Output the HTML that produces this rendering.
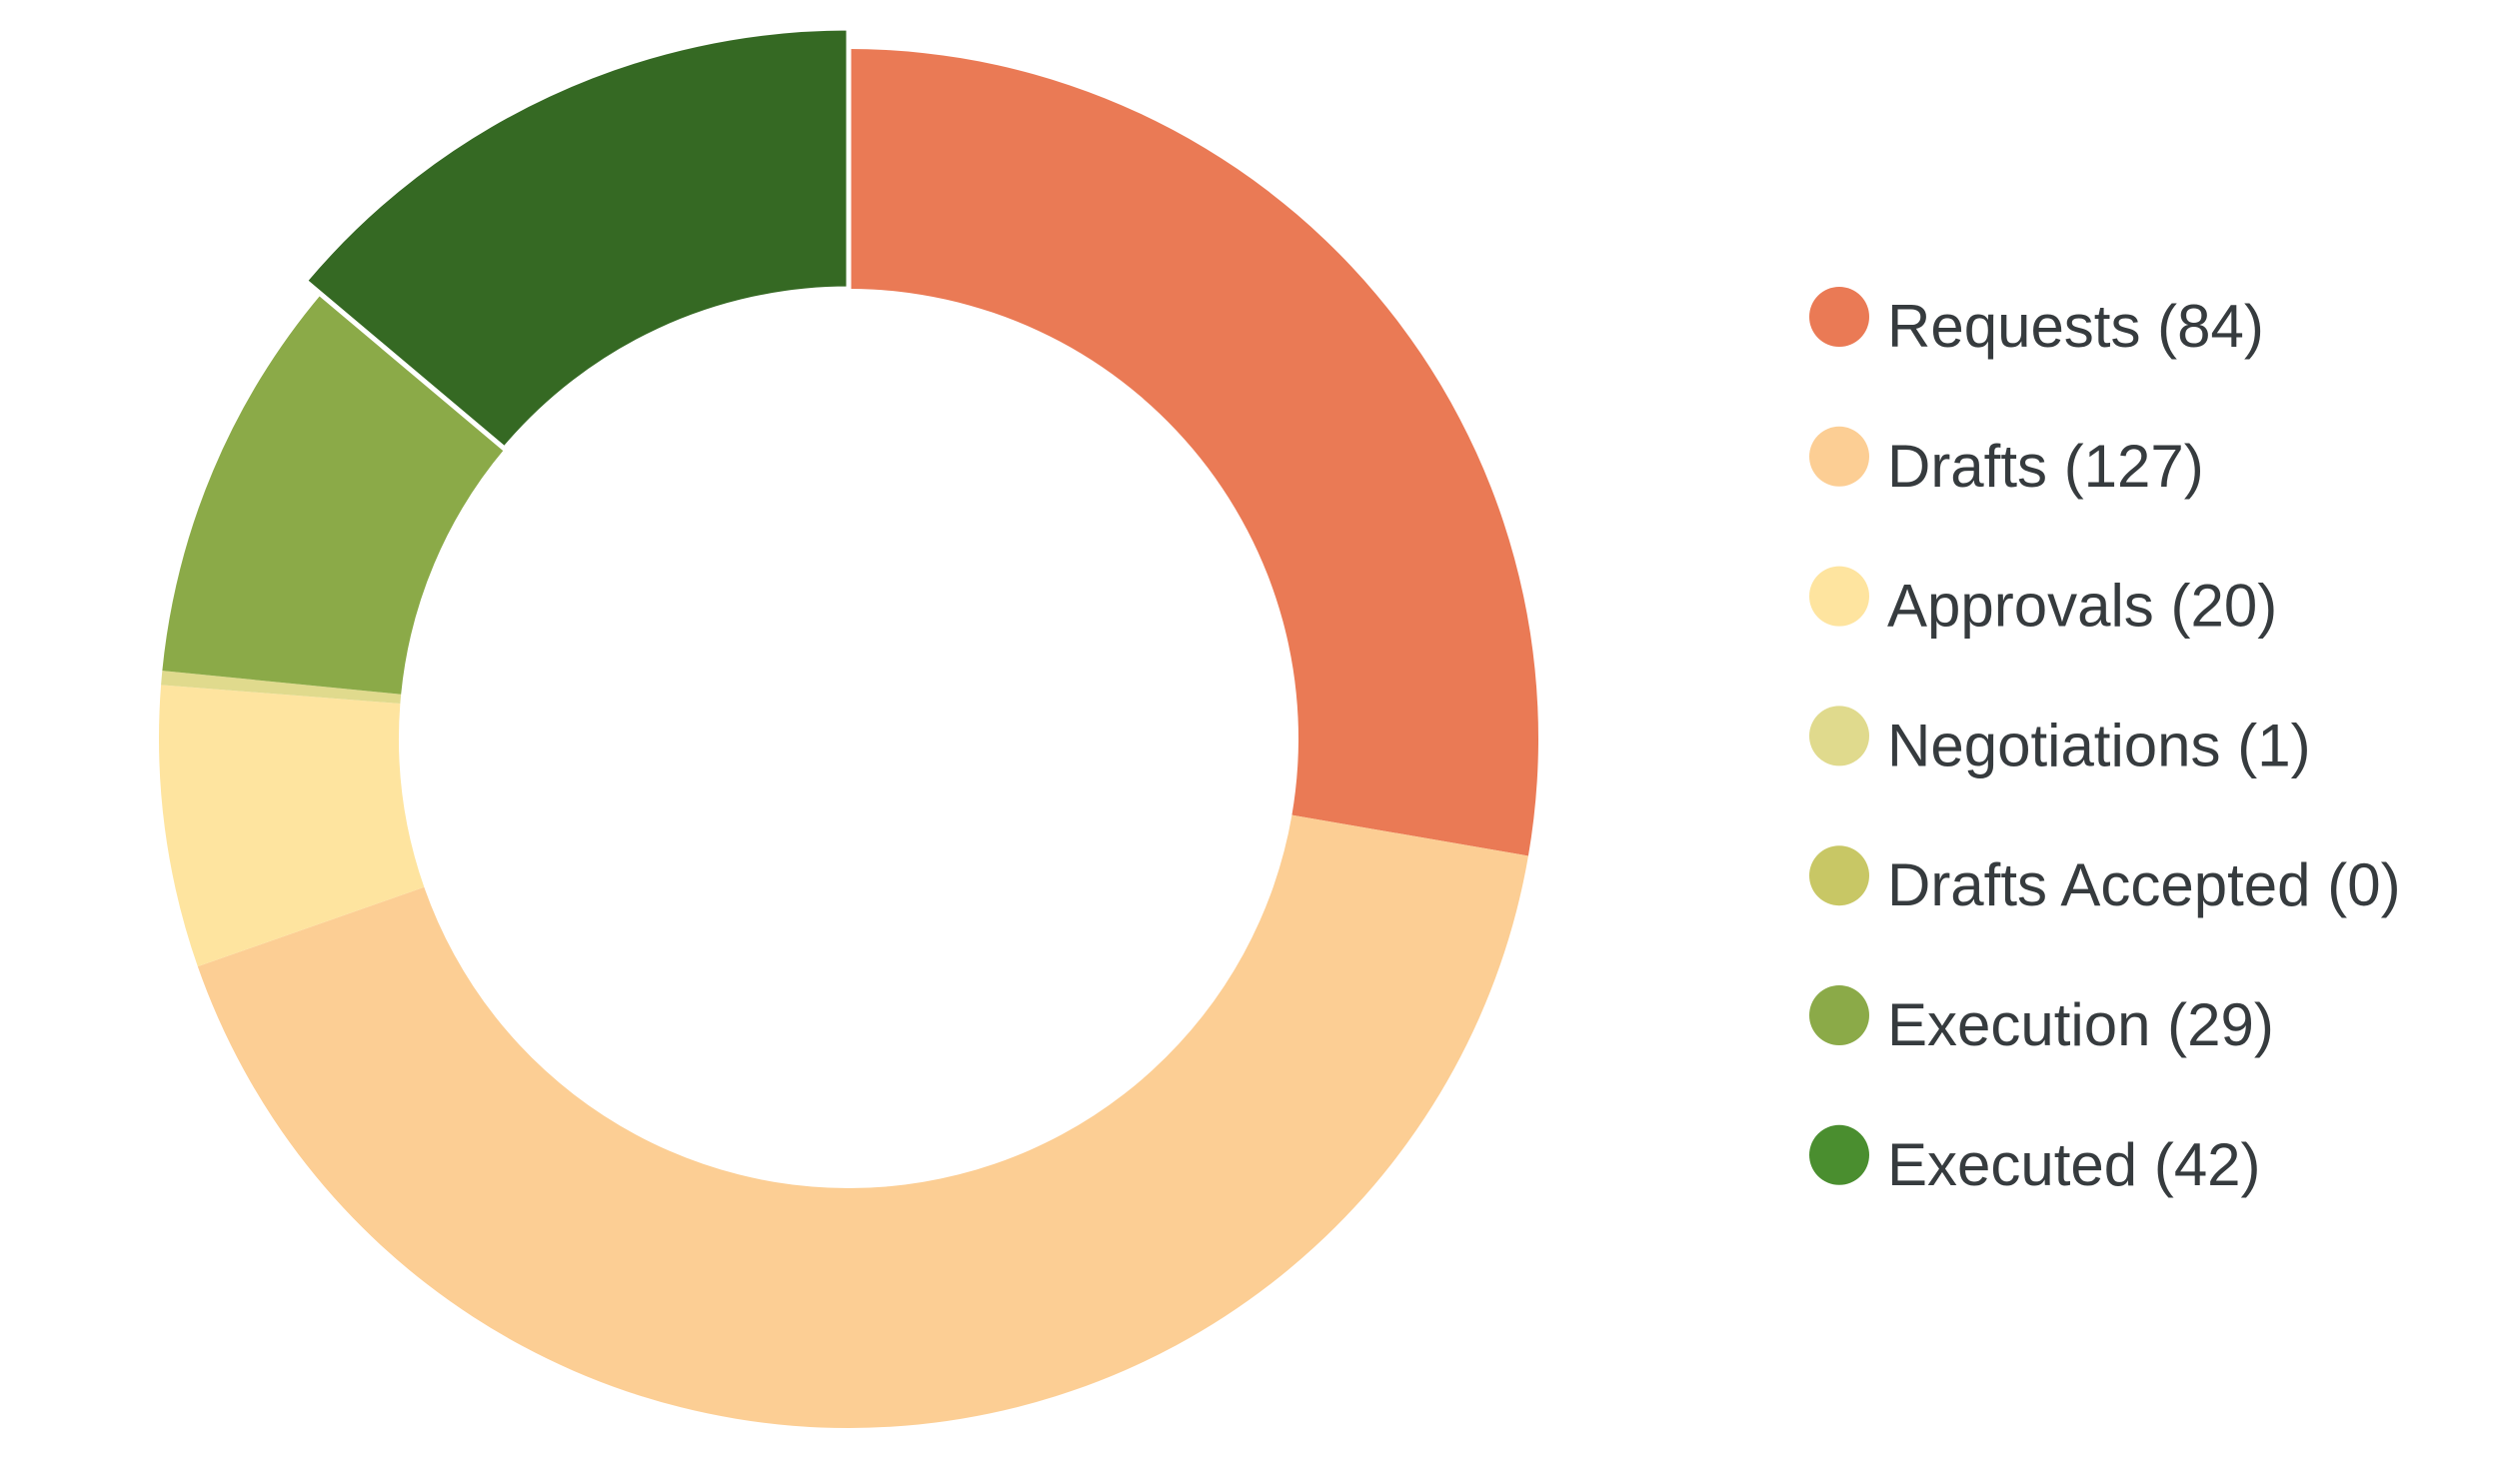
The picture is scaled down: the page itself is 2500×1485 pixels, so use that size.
<!DOCTYPE html>
<html><head><meta charset="utf-8">
<style>
html,body{margin:0;padding:0;background:#fff;}
svg{display:block;}
text{font-family:"Liberation Sans",sans-serif;}
</style></head>
<body>
<svg id="chart" width="2500" height="1485" viewBox="0 0 2500 1485">
<g id="slices"></g>
<g id="legend"></g>
</svg>
<script>
const categories = ["Requests","Drafts","Approvals","Negotiations","Drafts Accepted","Execution","Executed"];
const values = [84,127,20,1,0,29,42];
const sliceColors = ["#EA7A55","#FCCE94","#FEE49F","#E0DA8D","#C8C765","#8BAA48","#356923"];
const legendColors = ["#EA7A55","#FCCE94","#FEE49F","#E0DA8D","#C8C765","#8BAA48","#4A8E2F"];
const highlightIndex = 6;

const NS="http://www.w3.org/2000/svg";
const cx=849, cy=739, R=690, r=450, grow=21;
const total=values.reduce((a,b)=>a+b,0);
function pt(rad,ang){return [cx+rad*Math.sin(ang), cy-rad*Math.cos(ang)];}
const sg=document.getElementById('slices');
let acc=0;
values.forEach((v,i)=>{
  const a0=acc/total*2*Math.PI; acc+=v; const a1=acc/total*2*Math.PI;
  if(v<=0) return;
  const RR = i===highlightIndex ? R+grow : R;
  const large=(a1-a0)>Math.PI?1:0;
  const [x0,y0]=pt(RR,a0),[x1,y1]=pt(RR,a1),[x2,y2]=pt(r,a1),[x3,y3]=pt(r,a0);
  const p=document.createElementNS(NS,'path');
  p.setAttribute('d',`M${x0},${y0} A${RR},${RR} 0 ${large} 1 ${x1},${y1} L${x2},${y2} A${r},${r} 0 ${large} 0 ${x3},${y3} Z`);
  p.setAttribute('fill',sliceColors[i]);
  if(i===highlightIndex){p.setAttribute('stroke','#fff');p.setAttribute('stroke-width','5');}
  
  
  sg.appendChild(p);
});
const lg=document.getElementById('legend');
categories.forEach((c,i)=>{
  const y=317+i*139.8;
  const g=document.createElementNS(NS,'g');
  
  
  const ci=document.createElementNS(NS,'circle');
  ci.setAttribute('cx',1840);ci.setAttribute('cy',y);ci.setAttribute('r',30);
  ci.setAttribute('fill',legendColors[i]);
  
  
  const t=document.createElementNS(NS,'text');
  t.setAttribute('x',1888);t.setAttribute('y',y+30);
  t.setAttribute('font-size','60');t.setAttribute('fill','#363b3e');
  t.textContent=c+' ('+values[i]+')';
  
  
  g.appendChild(ci);g.appendChild(t);lg.appendChild(g);
});
</script>
</body></html>
